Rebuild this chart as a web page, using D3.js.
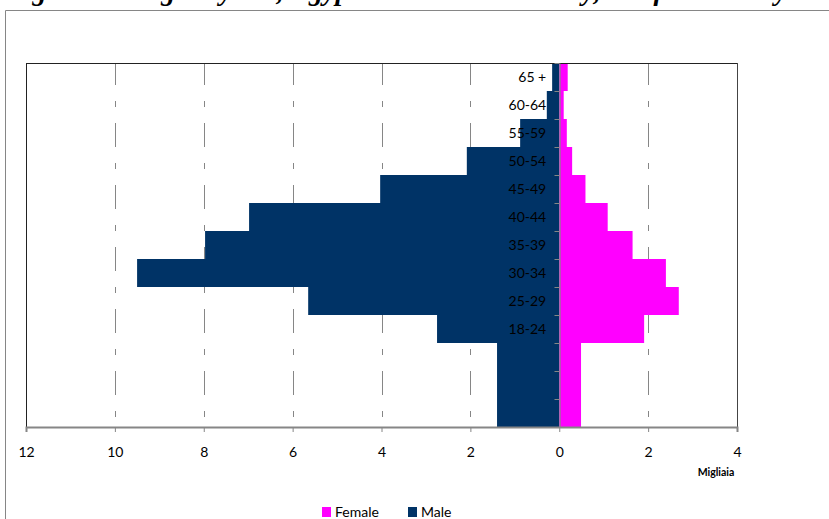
<!DOCTYPE html>
<html>
<head>
<meta charset="utf-8">
<script src="https://cdn.jsdelivr.net/npm/d3@7"></script>
<style>
  html, body { margin: 0; padding: 0; background: #fff; }
  svg { display: block; }
</style>
</head>
<body>
<svg id="chart" width="829" height="519"></svg>
<script>
// ---- data (bottom to top) ----
const ageGroups = ["", "", "", "18-24", "25-29", "30-34", "35-39", "40-44", "45-49", "50-54", "55-59", "60-64", "65 +"];
const maleValues   = [1.40, 1.40, 1.40, 2.75, 5.65, 9.50, 7.97, 6.98, 4.03, 2.08, 0.88, 0.28, 0.16];
const femaleValues = [0.49, 0.49, 0.49, 1.91, 2.69, 2.40, 1.65, 1.09, 0.59, 0.29, 0.17, 0.10, 0.19];
const xTicks = [-12, -10, -8, -6, -4, -2, 0, 2, 4];
const seriesNames = ["Female", "Male"];
const seriesColors = ["#FF00FF", "#003366"];
const unitLabel = "Migliaia";
const titleText = "Figure 12 - Ages by sex, Egyptian residents in Italy, as of 1 January 2010";

const svg = d3.select("#chart");
const font = "Lato, 'Open Sans', sans-serif";
const grey = "#868686";

// plot area
const plot = { left: 26, right: 737, top: 63, bottom: 427 };

const x = d3.scaleLinear().domain([-12, 4]).range([plot.left, plot.right]);
const idx = d3.range(ageGroups.length);
const y = d3.scaleBand().domain(idx.slice().reverse()).range([plot.top, plot.bottom]).padding(0);

// title (mostly above the visible area, as in the reference)
svg.append("text")
  .attr("x", 6)
  .attr("y", 0)
  .attr("font-family", "'Liberation Serif', 'Times New Roman', serif")
  .attr("font-weight", "bold")
  .attr("font-style", "italic")
  .attr("font-size", 28)
  .attr("fill", "#000")
  .text(titleText);

// outer chart border
svg.append("line").attr("x1", 5.5).attr("x2", 829).attr("y1", 10.5).attr("y2", 10.5)
  .attr("stroke", grey).attr("stroke-width", 1);
svg.append("line").attr("x1", 5.5).attr("x2", 5.5).attr("y1", 10.5).attr("y2", 519)
  .attr("stroke", grey).attr("stroke-width", 1);

// gridlines (dashed)
svg.append("g").selectAll("line")
  .data(xTicks.filter(v => v !== 0 && v !== -12 && v !== 4))
  .join("line")
  .attr("x1", d => Math.round(x(d)) + 0.5)
  .attr("x2", d => Math.round(x(d)) + 0.5)
  .attr("y1", plot.top)
  .attr("y2", plot.bottom)
  .attr("stroke", grey)
  .attr("stroke-width", 1)
  .attr("stroke-dasharray", "24,16,6,16")
  .attr("stroke-dashoffset", 2);

// bars
const x0 = x(0);
svg.append("g").selectAll("rect")
  .data(idx)
  .join("rect")
  .attr("x", i => x(-maleValues[i]))
  .attr("y", i => y(i))
  .attr("width", i => x0 - x(-maleValues[i]))
  .attr("height", y.bandwidth())
  .attr("fill", seriesColors[1]);

svg.append("g").selectAll("rect")
  .data(idx)
  .join("rect")
  .attr("x", x0)
  .attr("y", i => y(i))
  .attr("width", i => x(femaleValues[i]) - x0)
  .attr("height", y.bandwidth())
  .attr("fill", seriesColors[0]);

// plot area border (top, left, right)
svg.append("line").attr("x1", plot.left).attr("x2", plot.right + 0.5)
  .attr("y1", plot.top + 0.5).attr("y2", plot.top + 0.5).attr("stroke", "#222").attr("stroke-width", 1);
svg.append("line").attr("x1", plot.left + 0.5).attr("x2", plot.left + 0.5)
  .attr("y1", plot.top).attr("y2", plot.bottom).attr("stroke", "#222").attr("stroke-width", 1);
svg.append("line").attr("x1", plot.right + 0.5).attr("x2", plot.right + 0.5)
  .attr("y1", plot.top).attr("y2", plot.bottom).attr("stroke", "#444").attr("stroke-width", 1);

// vertical category axis at zero
const yAxis = d3.axisLeft(y).tickSize(0).tickFormat(() => "");
const yG = svg.append("g").attr("transform", `translate(${Math.round(x0) + 0.5},0)`).call(yAxis);
yG.select(".domain").attr("stroke", grey).attr("stroke-width", 1.2);
yG.selectAll("line.bound")
  .data(idx.slice(1))
  .join("line")
  .attr("class", "bound")
  .attr("x1", -5).attr("x2", 0)
  .attr("y1", i => Math.round(y(i) + y.bandwidth()) + 0.5)
  .attr("y2", i => Math.round(y(i) + y.bandwidth()) + 0.5)
  .attr("stroke", grey);
yG.append("line").attr("x1", -5).attr("x2", 0)
  .attr("y1", plot.top + 0.5).attr("y2", plot.top + 0.5).attr("stroke", grey);

// category labels
svg.append("g").selectAll("text")
  .data(idx)
  .join("text")
  .attr("x", x0 - 13)
  .attr("y", i => y(i) + y.bandwidth() / 2)
  .attr("dy", "0.36em")
  .attr("text-anchor", "end")
  .attr("font-family", font)
  .attr("font-size", 14)
  .attr("fill", "#000")
  .text(i => ageGroups[i]);

// x axis
const xAxis = d3.axisBottom(x).tickValues(xTicks).tickSize(5).tickPadding(15)
  .tickFormat(d => Math.abs(d));
const xG = svg.append("g").attr("transform", `translate(0,${plot.bottom})`).call(xAxis);
xG.select(".domain").attr("stroke", grey).attr("stroke-width", 2);
xG.selectAll(".tick line").attr("stroke", grey);
xG.selectAll(".tick text").attr("font-family", font).attr("font-size", 14).attr("fill", "#000");

// unit label
svg.append("text")
  .attr("x", 716).attr("y", 476)
  .attr("text-anchor", "middle")
  .attr("font-family", font)
  .attr("font-weight", "bold")
  .attr("font-size", 10.5)
  .attr("fill", "#000")
  .text(unitLabel);

// legend
const legendPos = [322, 408];
const lg = svg.append("g").selectAll("g")
  .data(seriesNames)
  .join("g")
  .attr("transform", (d, i) => `translate(${legendPos[i]},0)`);
lg.append("rect").attr("x", 0).attr("y", 507).attr("width", 9).attr("height", 10)
  .attr("fill", (d, i) => seriesColors[i]);
lg.append("text").attr("x", 13).attr("y", 517)
  .attr("font-family", font).attr("font-size", 14).attr("fill", "#000")
  .text(d => d);
</script>
</body>
</html>
